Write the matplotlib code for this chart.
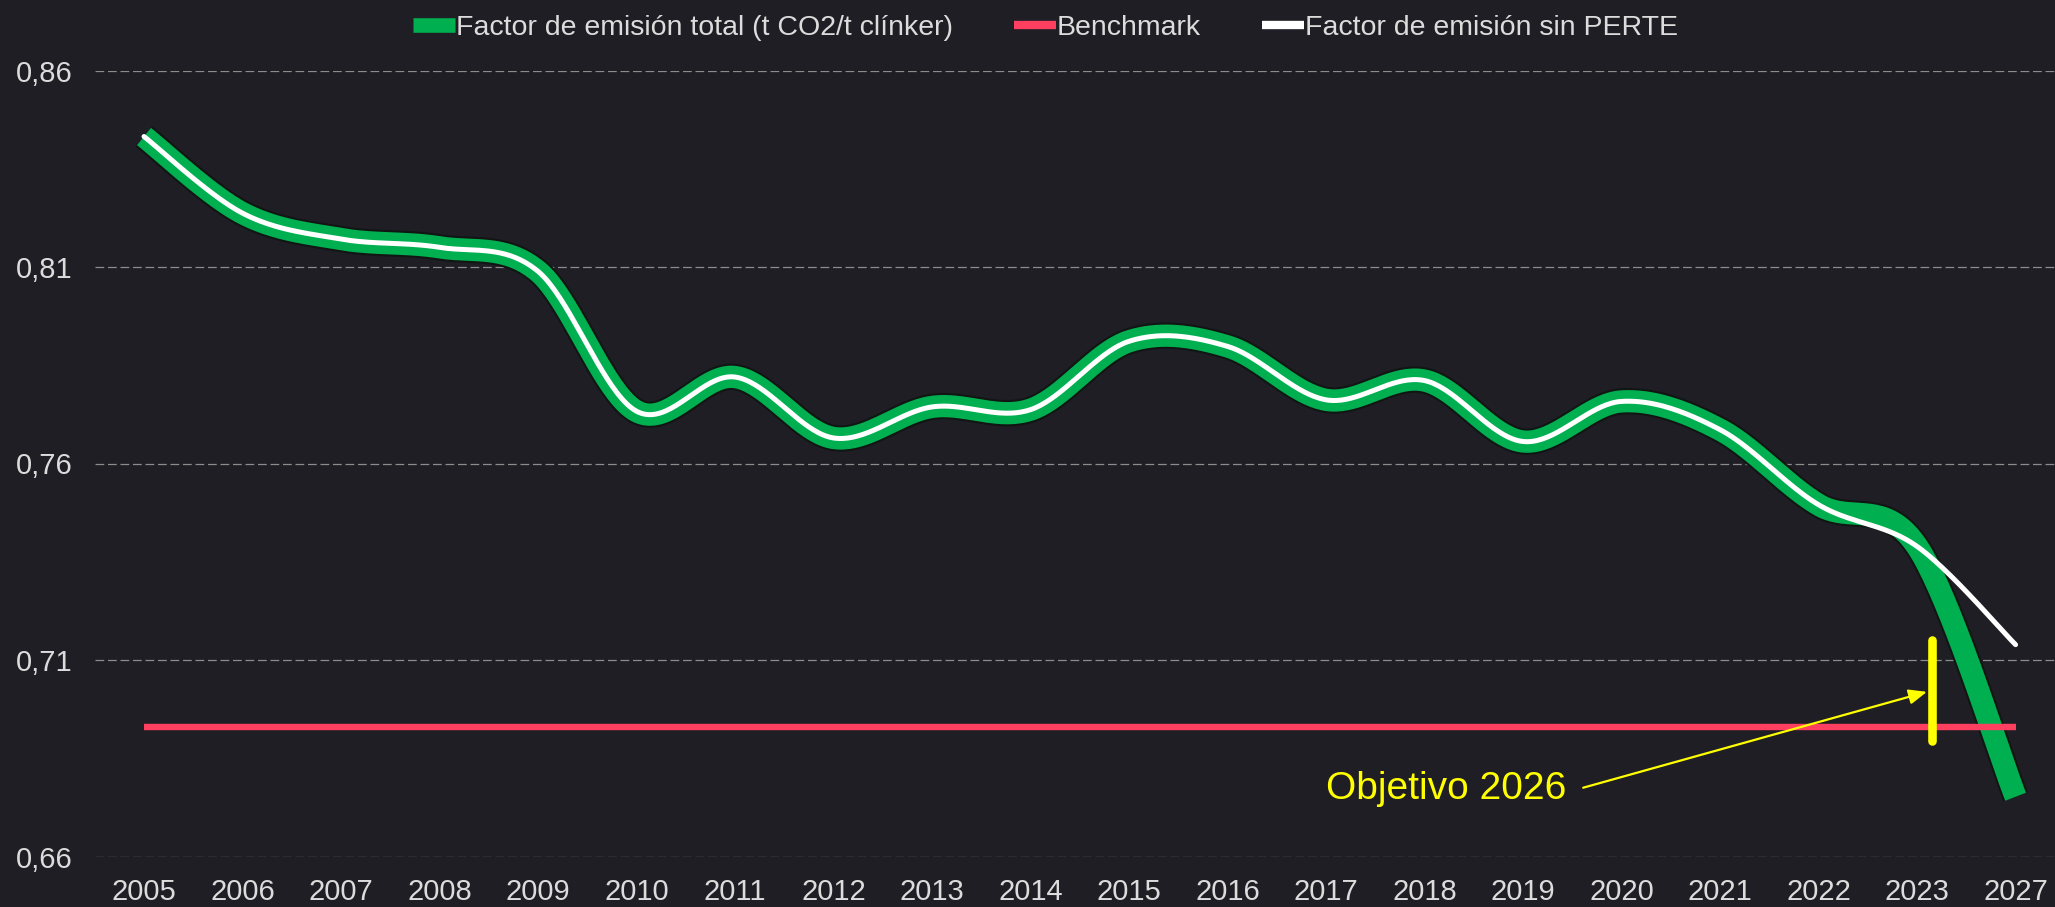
import numpy as np
import matplotlib
matplotlib.use("Agg")
import matplotlib.pyplot as plt
from matplotlib.lines import Line2D
from matplotlib.ticker import FuncFormatter
from matplotlib import font_manager as fm
import matplotlib.patheffects as pe

plt.rcParams['font.family'] = ['Liberation Sans', 'DejaVu Sans']

# ---------------- data ----------------
years = ['2005', '2006', '2007', '2008', '2009', '2010', '2011', '2012', '2013', '2014',
         '2015', '2016', '2017', '2018', '2019', '2020', '2021', '2022', '2023', '2027']
factor_total = [0.8432, 0.8237, 0.8171, 0.8150, 0.8089, 0.7733, 0.7820, 0.7665, 0.7744, 0.7737,
                0.7911, 0.7898, 0.7762, 0.7811, 0.7656, 0.7758, 0.7686, 0.7495, 0.7389, 0.6752]
factor_sin_perte = [0.8432, 0.8237, 0.8171, 0.8150, 0.8089, 0.7733, 0.7820, 0.7665, 0.7744, 0.7737,
                    0.7911, 0.7898, 0.7762, 0.7811, 0.7656, 0.7758, 0.7686, 0.7495, 0.7389, 0.7139]
benchmark = [0.693, 0.693, 0.693, 0.693, 0.693, 0.693, 0.693, 0.693, 0.693, 0.693,
             0.693, 0.693, 0.693, 0.693, 0.693, 0.693, 0.693, 0.693, 0.693, 0.693]
y_ticks = [0.66, 0.71, 0.76, 0.81, 0.86]
legend_labels = ['Factor de emisión total (t CO2/t clínker)', 'Benchmark', 'Factor de emisión sin PERTE']
annotation_text = 'Objetivo 2026'

# annotation geometry (category index units, value units)
target_bar_x = 18.15
target_bar_y = (0.6895, 0.7152)
arrow_tip = (18.10, 0.7019)
arrow_tail = (14.61, 0.6775)
text_pos = (14.44, 0.6773)

# ---------------- style ----------------
BG = '#1e1e24'
GREEN = '#00b050'
RED = '#ff3f60'
WHITE = '#ffffff'
YELLOW = '#ffff00'
TXT = '#dcdcdc'
GRID = '#8c8c8c'


def has_font(name):
    try:
        fm.findfont(fm.FontProperties(family=name), fallback_to_default=False)
        return True
    except Exception:
        return False


if has_font('Liberation Sans Narrow'):
    leg_family, leg_size = ['Liberation Sans Narrow', 'DejaVu Sans'], 25
else:
    leg_family, leg_size = ['Liberation Sans', 'DejaVu Sans'], 20.5


def excel_smooth(vals, n=40):
    y = np.asarray(vals, dtype=float)
    x = np.arange(len(y), dtype=float)
    P = np.column_stack([x, y])
    N = len(P)
    out = []
    for i in range(N - 1):
        p0 = P[i - 1] if i > 0 else P[i]
        p1 = P[i]
        p2 = P[i + 1]
        p3 = P[i + 2] if i + 2 < N else P[i + 1]
        c1 = p1 + (p2 - p0) / 6.0
        c2 = p2 - (p3 - p1) / 6.0
        t = np.linspace(0, 1, n, endpoint=(i == N - 2))[:, None]
        seg = ((1 - t) ** 3) * p1 + 3 * ((1 - t) ** 2) * t * c1 + 3 * (1 - t) * t ** 2 * c2 + t ** 3 * p2
        out.append(seg)
    out = np.vstack(out)
    return out[:, 0], out[:, 1]


fig = plt.figure(figsize=(20.55, 9.07), dpi=100, facecolor=BG)
left_px = 94.75
ax = fig.add_axes([left_px / 2055, 1 - 856.5 / 907, (2055 - left_px) / 2055, (856.5 - 70.5) / 907])
ax.set_facecolor(BG)

xg, yg = excel_smooth(factor_total)
xw, yw = excel_smooth(factor_sin_perte)
xpos = np.arange(len(years))

ax.plot(xg, yg, color=GREEN, lw=16, solid_capstyle='butt', solid_joinstyle='round', zorder=3,
        path_effects=[pe.Stroke(linewidth=19, foreground='#111614'), pe.Normal()])
ax.plot(xw, yw, color=WHITE, lw=3.6, solid_capstyle='round', zorder=4)
ax.plot(xpos, benchmark, color=RED, lw=4.6, solid_capstyle='butt', zorder=5)

# target marker and annotation
ax.plot([target_bar_x, target_bar_x], list(target_bar_y), color=YELLOW, lw=6.2,
        solid_capstyle='round', zorder=6)
ax.annotate('', xy=arrow_tip, xytext=arrow_tail,
            arrowprops=dict(arrowstyle='-|>,head_length=0.6,head_width=0.25', color=YELLOW,
                            lw=1.6, mutation_scale=18, shrinkA=0, shrinkB=0), zorder=6)
ax.text(text_pos[0], text_pos[1], annotation_text, color=YELLOW, fontsize=28,
        ha='right', va='center', zorder=6)

# axes
ax.set_xlim(-0.5, 19.4)
ax.set_ylim(0.66, 0.86)
ax.set_xticks(xpos)
ax.set_xticklabels(years)
ax.set_yticks(y_ticks)
ax.yaxis.set_major_formatter(FuncFormatter(lambda v, p: f'{v:.2f}'.replace('.', ',')))
ax.tick_params(axis='x', length=0, pad=15.5, labelsize=21, colors=TXT)
ax.tick_params(axis='y', length=0, pad=16, labelsize=21, colors=TXT)
for s in ax.spines.values():
    s.set_visible(False)
ax.grid(axis='y', color=GRID, lw=0.9, linestyle=(0, (7, 3)))
ax.set_axisbelow(True)

handles = [Line2D([], [], color=GREEN, lw=10.5, solid_capstyle='butt'),
           Line2D([], [], color=RED, lw=6, solid_capstyle='butt'),
           Line2D([], [], color=WHITE, lw=6, solid_capstyle='butt')]
em = leg_size * 100 / 72.0
fig.legend(handles, legend_labels, loc='center left', bbox_to_anchor=(413 / 2055, 1 - 28 / 907),
           ncol=3, frameon=False, prop={'family': leg_family, 'size': leg_size}, labelcolor=TXT,
           handlelength=42 / em, handletextpad=0.03, columnspacing=61 / em,
           borderpad=0, borderaxespad=0)

fig.savefig('out.png', dpi=100, facecolor=BG)
